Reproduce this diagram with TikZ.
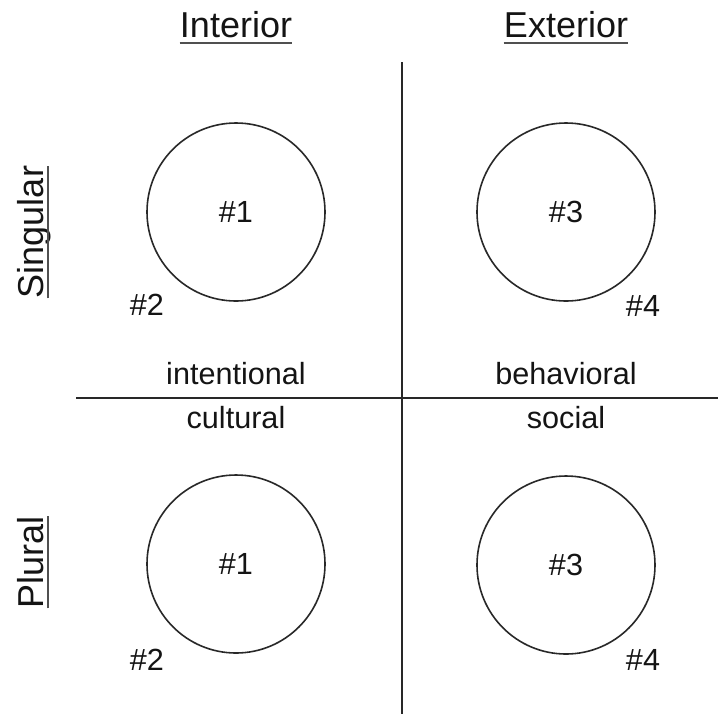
\documentclass[tikz,border=0pt]{standalone}
\usepackage{fontspec}
\setmainfont{Liberation Sans}
\usepackage{tikz}
\usetikzlibrary{positioning}
\usepackage{xcolor}
\definecolor{qdline}{RGB}{40,40,40}
\definecolor{qdrule}{RGB}{80,80,80}
\definecolor{qdtext}{RGB}{20,20,20}
\tikzstyle{axisline} = [line width=1pt, color=qdline]
\tikzstyle{headrule} = [line width=1.2pt, color=qdrule]
\tikzstyle{heading} = [font=\fontsize{18}{20}\selectfont, text=qdtext, inner sep=0pt, anchor=base]
\tikzstyle{tagtext} = [font=\fontsize{15.3}{17}\selectfont, text=qdtext, inner sep=0pt]
\tikzstyle{quadcircle} = [circle, draw=qdline, line width=0.8pt, minimum size=89pt, inner sep=0pt, font=\fontsize{15.3}{17}\selectfont, text=qdtext]

\begin{document}
\begin{tikzpicture}[x=0.5pt, y=-0.5pt]
\useasboundingbox (0,0) rectangle (718,714);
% Axes
\coordinate (vtop) at (402,62);
\coordinate (vbot) at (402,714);
\coordinate (hleft) at (76,398);
\coordinate (hright) at (718,398);
\draw[axisline] (vtop) -- (vbot);
\draw[axisline] (hleft) -- (hright);

% Headings
\node (interior) [heading] at (236,37) {Interior};
\node (exterior) [heading] at (566,37) {Exterior};
\node (singular) [heading, rotate=90] at (43,232) {Singular};
\node (plural) [heading, rotate=90] at (43,562) {Plural};

\draw[headrule] ([yshift=-3pt]interior.base west) -- ([yshift=-3pt]interior.base east);
\draw[headrule] ([yshift=-3pt]exterior.base west) -- ([yshift=-3pt]exterior.base east);
\draw[headrule] ([xshift=2.5pt]singular.base west) -- ([xshift=2.5pt]singular.base east);
\draw[headrule] ([xshift=2.5pt]plural.base west) -- ([xshift=2.5pt]plural.base east);

% Circles
\node (tlc) [quadcircle] at (236,212) {\#1};
\node (trc) [quadcircle] at (566,212) {\#3};
\node (blc) [quadcircle] at (236,564) {\#1};
\node (brc) [quadcircle] at (566,565) {\#3};

\node (tl2) [tagtext] at ([shift={(-89,93)}]tlc.center) {\#2};
\node (tr4) [tagtext] at ([shift={(77,94)}]trc.center) {\#4};
\node (bl2) [tagtext] at ([shift={(-89,96)}]blc.center) {\#2};
\node (br4) [tagtext] at ([shift={(77,95)}]brc.center) {\#4};

% Quadrant names
\node (intentional) [tagtext, anchor=base] at (236,384) {intentional};
\node (behavioral) [tagtext, anchor=base] at (566,384) {behavioral};
\node (cultural) [tagtext, anchor=base] at (236,428) {cultural};
\node (social) [tagtext, anchor=base] at (566,428) {social};
\end{tikzpicture}
\end{document}
